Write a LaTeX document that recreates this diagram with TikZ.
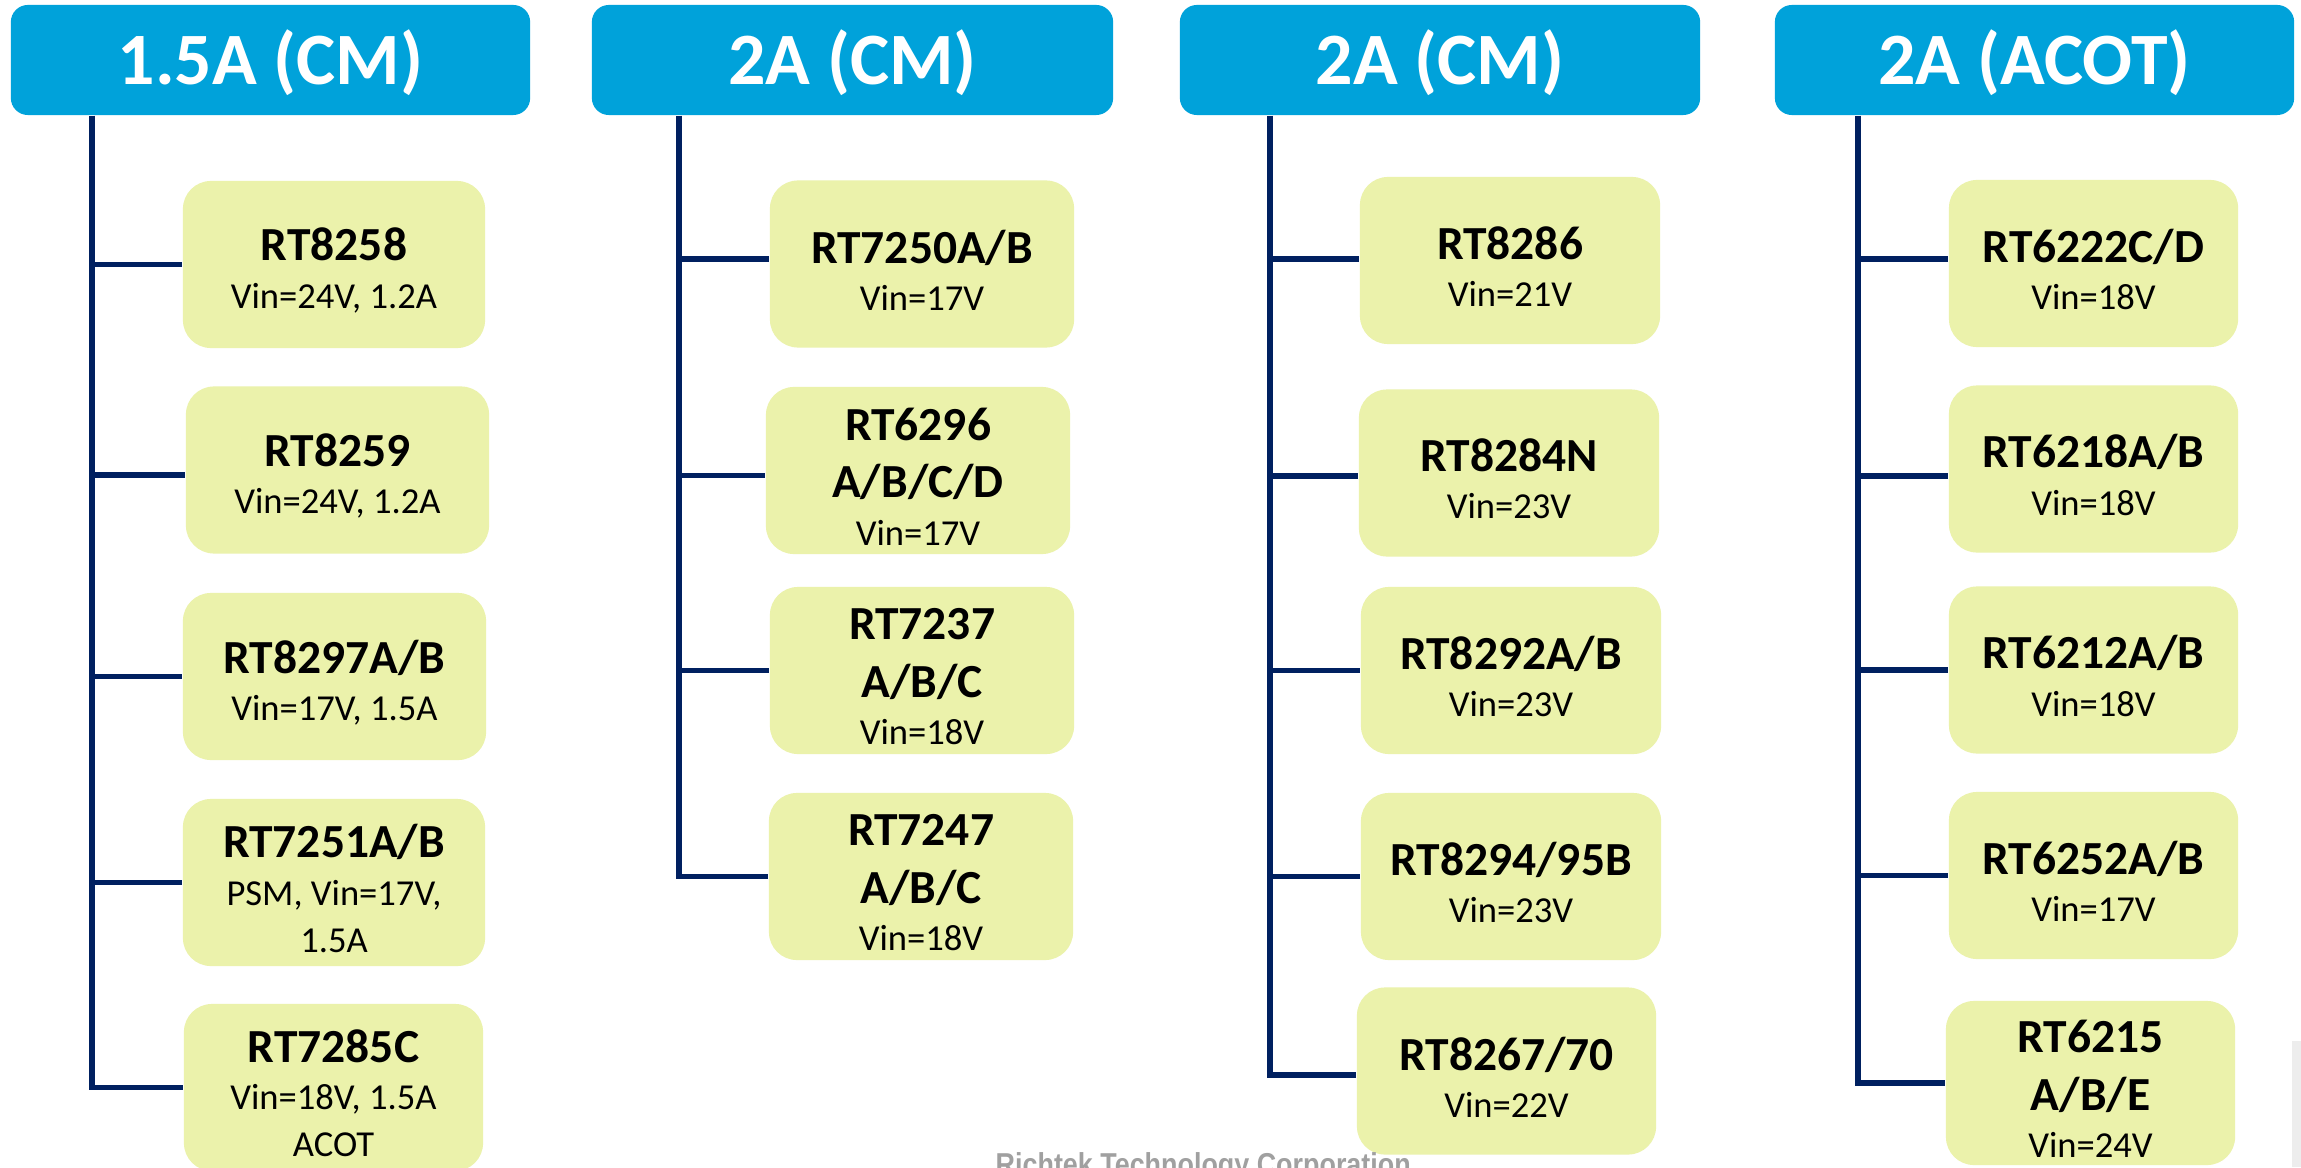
\documentclass[tikz,border=0pt]{standalone}
\usepackage{fontspec}
\setmainfont{Carlito}
\newfontfamily\wmfont{Liberation Sans}
\definecolor{hdrblue}{HTML}{00A2DA}
\definecolor{boxfill}{HTML}{EBF2AB}
\definecolor{navy}{HTML}{002060}
\definecolor{wmgray}{HTML}{A0A0A0}
\newcommand\bt[1]{\fontsize{13.5}{16}\selectfont\bfseries #1}
\newcommand\st[1]{\fontsize{10.4}{12.5}\selectfont #1}
\newcommand\lns[1]{\vbox{\kern3.4pt\lineskiplimit=-100pt\lineskip=0pt\baselineskip=13.4pt\halign{\hfil##\hfil\cr#1\crcr}}}
\newcommand\hd[1]{\vbox{\kern1.8pt\hbox{#1}}}
\newcommand\gap{\noalign{\vskip3pt}}
\tikzset{
  hdr/.style={fill=hdrblue, rounded corners=0.17cm, minimum height=1.10cm, inner sep=0pt,
    text=white, font=\fontsize{21}{25}\selectfont\bfseries},
  pbox/.style={fill=boxfill, rounded corners=0.28cm, minimum height=1.67cm, inner sep=0pt},
  conn/.style={draw=navy, line width=1.6pt},
}
\begin{document}
\begin{tikzpicture}[x=0.01cm, y=-0.01cm]
\useasboundingbox (0,0) rectangle (2301,1167);
\clip (0,0) rectangle (2301,1167);
\fill[white] (0,0) rectangle (2301,1167);
\fill[black!7] (2292,1041) rectangle (2301,1167);

% headers
\node[hdr, minimum width=5.19cm] (h1) at (270.5,60) {\hd{1.5A (CM)}};
\node[hdr, minimum width=5.21cm] (h2) at (852.5,60) {\hd{2A (CM)}};
\node[hdr, minimum width=5.20cm] (h3) at (1440,60) {\hd{2A (CM)}};
\node[hdr, minimum width=5.19cm] (h4) at (2034.5,60) {\hd{2A (ACOT)}};

% column 1
\node[pbox, minimum width=3.02cm] (b11) at (334,264.5) {\lns{\bt{RT8258}\cr\st{Vin=24V, 1.2A}}};
\node[pbox, minimum width=3.03cm] (b12) at (337.5,470) {\lns{\bt{RT8259}\cr\st{Vin=24V, 1.2A}}};
\node[pbox, minimum width=3.03cm] (b13) at (334.5,676.5) {\lns{\bt{RT8297A/B}\cr\st{Vin=17V, 1.5A}}};
\node[pbox, minimum width=3.02cm] (b14) at (334,882.5) {\lns{\bt{RT7251A/B}\cr\st{PSM, Vin=17V,}\cr\st{1.5A}}};
\node[pbox, minimum width=2.99cm] (b15) at (333.5,1087.5) {\lns{\bt{RT7285C}\cr\st{Vin=18V, 1.5A}\cr\st{ACOT}}};

% column 2
\node[pbox, minimum width=3.04cm] (b21) at (922,264) {\lns{\bt{RT7250A/B}\cr\st{Vin=17V}}};
\node[pbox, minimum width=3.04cm] (b22) at (918,470.5) {\lns{\bt{RT6296}\cr\gap\bt{A/B/C/D}\cr\st{Vin=17V}}};
\node[pbox, minimum width=3.04cm] (b23) at (922,670.5) {\lns{\bt{RT7237}\cr\gap\bt{A/B/C}\cr\st{Vin=18V}}};
\node[pbox, minimum width=3.04cm] (b24) at (921,876.5) {\lns{\bt{RT7247}\cr\gap\bt{A/B/C}\cr\st{Vin=18V}}};

% column 3
\node[pbox, minimum width=3.00cm] (b31) at (1510,260.5) {\lns{\bt{RT8286}\cr\st{Vin=21V}}};
\node[pbox, minimum width=3.00cm] (b32) at (1509,473) {\lns{\bt{RT8284N}\cr\st{Vin=23V}}};
\node[pbox, minimum width=3.00cm] (b33) at (1511,670.5) {\lns{\bt{RT8292A/B}\cr\st{Vin=23V}}};
\node[pbox, minimum width=3.00cm] (b34) at (1511,876.5) {\lns{\bt{RT8294/95B}\cr\st{Vin=23V}}};
\node[pbox, minimum width=2.99cm] (b35) at (1506.5,1071) {\lns{\bt{RT8267/70}\cr\st{Vin=22V}}};

% column 4
\node[pbox, minimum width=2.89cm] (b41) at (2093.5,263.5) {\lns{\bt{RT6222C/D}\cr\st{Vin=18V}}};
\node[pbox, minimum width=2.89cm] (b42) at (2093.5,469) {\lns{\bt{RT6218A/B}\cr\st{Vin=18V}}};
\node[pbox, minimum width=2.89cm] (b43) at (2093.5,670) {\lns{\bt{RT6212A/B}\cr\st{Vin=18V}}};
\node[pbox, minimum width=2.89cm] (b44) at (2093.5,875.5) {\lns{\bt{RT6252A/B}\cr\st{Vin=17V}}};
\node[pbox, minimum width=2.89cm, minimum height=1.64cm] (b45) at (2090.5,1083) {\lns{\bt{RT6215}\cr\gap\bt{A/B/E}\cr\st{Vin=24V}}};

% trunk x positions
\coordinate (c1) at (92,0);
\coordinate (c2) at (679,0);
\coordinate (c3) at (1270,0);
\coordinate (c4) at (1858,0);

% connectors
\draw[conn] (h1.south -| c1) |- (b15.west);
\foreach \nm/\dy in {b11/0,b12/-0.05,b13/0,b14/0} \draw[conn] ([yshift=\dy cm]\nm.west -| c1) -- ([yshift=\dy cm]\nm.west);
\draw[conn] (h2.south -| c2) |- (b24.west);
\foreach \nm/\dy in {b21/0.05,b22/-0.05,b23/0} \draw[conn] ([yshift=\dy cm]\nm.west -| c2) -- ([yshift=\dy cm]\nm.west);
\draw[conn] (h3.south -| c3) |- ([yshift=-0.04cm]b35.west);
\foreach \nm/\dy in {b31/0.015,b32/-0.03,b33/0,b34/0} \draw[conn] ([yshift=\dy cm]\nm.west -| c3) -- ([yshift=\dy cm]\nm.west);
\draw[conn] (h4.south -| c4) |- (b45.west);
\foreach \nm/\dy in {b41/0.045,b42/-0.07,b43/0,b44/0} \draw[conn] ([yshift=\dy cm]\nm.west -| c4) -- ([yshift=\dy cm]\nm.west);

% watermark
\node[anchor=north west, inner sep=0pt, text=wmgray, font=\wmfont\fontsize{9}{10}\selectfont\bfseries] (wm) at (995,1152) {\scalebox{0.85}[1]{Richtek Technology Corporation}};
\end{tikzpicture}
\end{document}
